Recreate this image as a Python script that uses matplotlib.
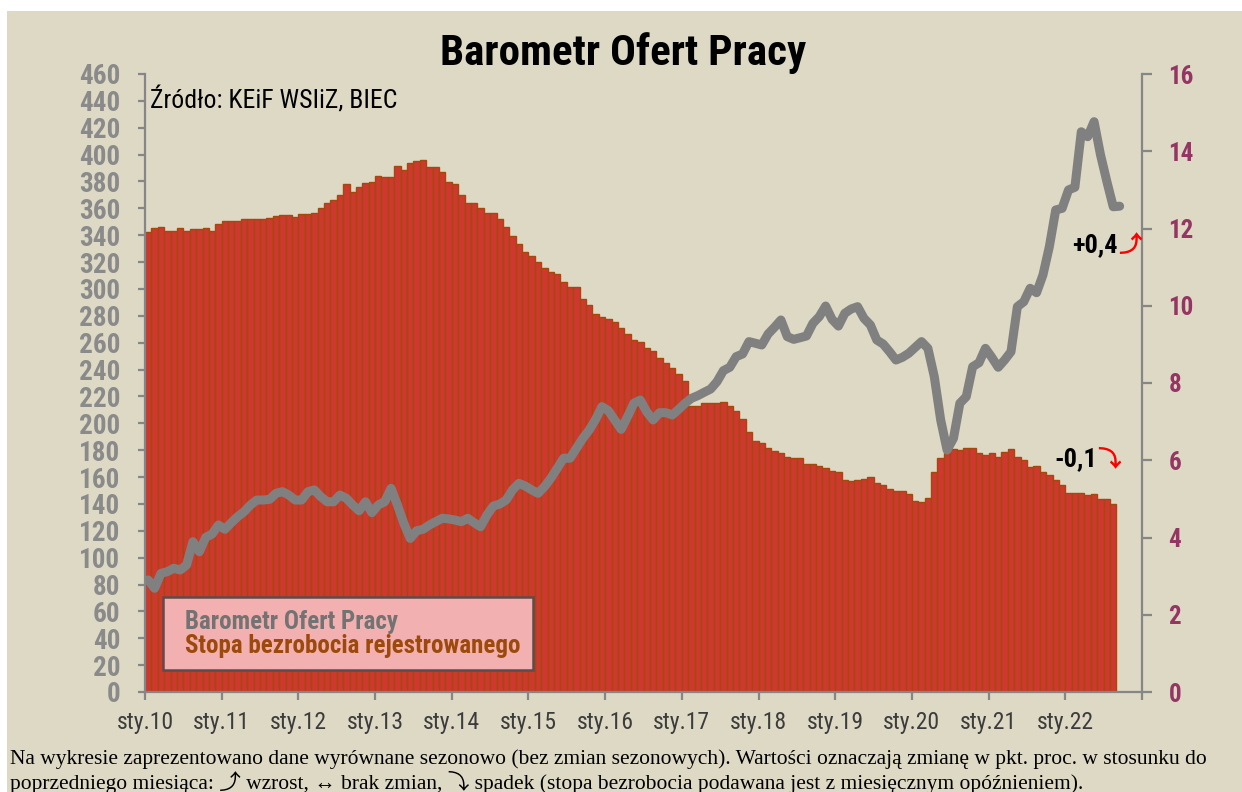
import numpy as np
import matplotlib
matplotlib.use('Agg')
import matplotlib.pyplot as plt
from matplotlib import font_manager
from matplotlib.patches import Rectangle

# condensed font for the chart texts, whichever is installed
fonts = font_manager.fontManager.ttflist
narrow, stretch, k = 'Liberation Sans', 'normal', 0.82
for f in fonts:
    if f.name in ('Liberation Sans Narrow', 'Roboto Condensed', 'Open Sans Condensed',
                  'DejaVu Sans Condensed', 'Noto Sans Condensed'):
        narrow, stretch, k = f.name, 'normal', 1.0
        break
else:
    for f in fonts:
        if f.stretch in ('condensed', 'semi-condensed', 'extra-condensed'):
            narrow, stretch, k = f.name, f.stretch, 1.0
            break

arrow_fonts = ['DejaVu Sans', 'Noto Sans', 'Noto Sans CJK JP', 'Roboto', 'Open Sans',
               'Lato', 'Inter', 'Liberation Sans']

# stopa bezrobocia rejestrowanego (%), sty.10 - sie.22
unemployment = [
    11.92, 12.02, 12.05, 11.94, 11.94, 12.01, 11.94, 11.98, 11.98, 12.01, 11.94, 12.12,
    12.20, 12.20, 12.20, 12.24, 12.25, 12.25, 12.25, 12.28, 12.32, 12.34, 12.34, 12.31,
    12.38, 12.38, 12.41, 12.54, 12.65, 12.75, 12.88, 13.14, 12.95, 13.08, 13.17, 13.21,
    13.36, 13.33, 13.33, 13.62, 13.51, 13.70, 13.75, 13.77, 13.58, 13.60, 13.47, 13.21,
    13.14, 12.87, 12.65, 12.67, 12.54, 12.39, 12.39, 12.25, 12.05, 11.81, 11.60, 11.38,
    11.29, 11.14, 10.99, 10.88, 10.81, 10.62, 10.49, 10.49, 10.17, 10.02, 9.79, 9.70,
    9.66, 9.59, 9.43, 9.27, 9.11, 9.07, 8.90, 8.84, 8.64, 8.53, 8.38, 8.23,
    8.05, 7.40, 7.40, 7.47, 7.47, 7.47, 7.50, 7.40, 7.28, 7.06, 6.74, 6.50,
    6.44, 6.31, 6.25, 6.18, 6.09, 6.07, 6.07, 5.90, 5.90, 5.86, 5.81, 5.73,
    5.70, 5.49, 5.46, 5.49, 5.52, 5.57, 5.40, 5.36, 5.25, 5.21, 5.21, 5.13,
    4.95, 4.93, 5.01, 5.70, 6.05, 6.18, 6.28, 6.27, 6.31, 6.33, 6.20, 6.14,
    6.18, 6.08, 6.22, 6.28, 6.09, 6.01, 5.82, 5.86, 5.70, 5.63, 5.49, 5.36,
    5.16, 5.16, 5.16, 5.10, 5.13, 4.99, 4.99, 4.87,
]

# Barometr Ofert Pracy, sty.10 - wrz.22
barometer = [
    83.4, 77.2, 88.3, 89.6, 92.1, 90.8, 94.5, 111.9, 104.4, 115.1, 117.6, 124.3,
    121.1, 126.0, 130.5, 134.2, 139.2, 142.9, 142.9, 143.4, 147.9, 149.1, 146.6, 142.9,
    142.9, 149.1, 150.4, 145.4, 141.6, 141.6, 146.6, 144.2, 139.2, 134.9, 141.6, 133.5,
    139.2, 141.6, 151.6, 139.2, 125.5, 114.3, 120.0, 121.1, 124.3, 126.8, 129.3, 128.8,
    128.0, 126.8, 129.3, 126.0, 123.0, 131.7, 138.4, 139.9, 142.9, 150.4, 155.3, 153.3,
    150.4, 147.9, 152.8, 159.1, 166.5, 174.0, 174.0, 181.4, 188.8, 195.0, 202.9, 212.4,
    209.4, 202.5, 195.5, 204.9, 215.0, 217.3, 208.6, 202.5, 207.9, 207.9, 206.2, 210.4,
    214.9, 218.6, 220.6, 223.1, 225.5, 231.0, 239.2, 241.7, 249.6, 251.6, 260.8, 259.6,
    258.3, 266.5, 271.5, 276.9, 264.5, 262.5, 263.7, 265.0, 274.4, 279.4, 287.3, 277.4,
    272.4, 281.9, 285.1, 286.8, 278.1, 273.2, 262.0, 259.0, 253.3, 247.1, 249.1, 252.1,
    256.5, 260.8, 255.8, 234.7, 202.5, 180.1, 188.8, 214.9, 219.8, 242.1, 245.1, 255.8,
    249.1, 241.7, 247.1, 253.3, 286.8, 290.5, 300.5, 297.2, 310.4, 331.4, 358.8, 360.0,
    373.7, 375.7, 417.0, 413.3, 424.5, 400.0, 380.0, 361.2, 361.6,
]

year_labels = ['sty.10', 'sty.11', 'sty.12', 'sty.13', 'sty.14', 'sty.15', 'sty.16',
               'sty.17', 'sty.18', 'sty.19', 'sty.20', 'sty.21', 'sty.22']

bg = '#DDD9C4'
axis_gray = '#868686'

fig = plt.figure(figsize=(12.42, 7.92), dpi=100, facecolor='white')
fig.patches.append(Rectangle((7 / 1242, 0), 1, 781 / 792, transform=fig.transFigure,
                             facecolor=bg, edgecolor='none', zorder=-10))

ax = fig.add_axes([145 / 1242, 100 / 792, 997 / 1242, 618 / 792])
ax.set_facecolor('none')
ax2 = ax.twinx()

# bars - unemployment, right axis
xb = np.arange(len(unemployment)) + 0.5
ax.bar(xb, unemployment, width=1.0, color='#CF382E', edgecolor='#A5480C', linewidth=1.0,
       label='Stopa bezrobocia rejestrowanego')
ax.set_ylim(0, 16)
ax.set_xlim(0, 156)
ax.yaxis.tick_right()
ax.set_yticks(range(0, 17, 2))
ax.set_xticks(range(0, 157, 12))
ax.set_xticklabels(year_labels + [''])

# line - barometer, left axis
xl = np.arange(len(barometer)) + 0.5
ln, = ax2.plot(xl, barometer, color='#808080', lw=6.5, solid_capstyle='round',
               solid_joinstyle='round', label='Barometr Ofert Pracy')
ax2.set_ylim(0, 460)
ax2.yaxis.tick_left()
ax2.set_yticks(range(0, 461, 20))

for s in ['top', 'left']:
    ax.spines[s].set_visible(False)
for s in ['top', 'right', 'bottom']:
    ax2.spines[s].set_visible(False)
for sp in [ax.spines['right'], ax.spines['bottom'], ax2.spines['left']]:
    sp.set_color(axis_gray)
    sp.set_linewidth(1.6)

ax.tick_params(axis='y', colors=axis_gray, length=7, width=1.6, pad=12,
               labelcolor='#953563', labelsize=18 * k)
ax.tick_params(axis='x', colors=axis_gray, length=6, width=1.6, pad=8,
               labelcolor='#3C3C3C', labelsize=17 * k)
ax2.tick_params(axis='y', colors=axis_gray, length=5, width=1.6, pad=13,
                labelcolor='#8A8A8A', labelsize=19.5 * k)
for lab in ax.get_xticklabels():
    lab.set_fontfamily(narrow)
    lab.set_fontstretch(stretch)
for lab in ax.get_yticklabels() + ax2.get_yticklabels():
    lab.set_fontfamily(narrow)
    lab.set_fontstretch(stretch)
    lab.set_fontweight('bold')

# title and source
fig.text(623 / 1242, 1 - 65 / 792, 'Barometr Ofert Pracy', ha='center', va='baseline',
         fontsize=31 * k, fontweight='bold', family=narrow, fontstretch=stretch, color='black')
fig.text(150 / 1242, 1 - 108 / 792, 'Źródło: KEiF WSIiZ, BIEC', ha='left', va='baseline',
         fontsize=18.5 * k, family=narrow, fontstretch=stretch, color='black')

# latest changes
fig.text(1118 / 1242, 1 - 252 / 792, '+0,4', ha='right', va='baseline', fontsize=19 * k,
         fontweight='bold', family=narrow, fontstretch=stretch, color='black')
fig.text(1118 / 1242, 1 - 252 / 792, '⤴', ha='left', va='baseline', fontsize=17,
         fontweight='bold', family=arrow_fonts, color='red')
fig.text(1097 / 1242, 1 - 466 / 792, '-0,1', ha='right', va='baseline', fontsize=19 * k,
         fontweight='bold', family=narrow, fontstretch=stretch, color='black')
fig.text(1097 / 1242, 1 - 466 / 792, '⤵', ha='left', va='baseline', fontsize=17,
         fontweight='bold', family=arrow_fonts, color='red')

# legend
leg = ax2.legend([ln, ax.containers[0]], ['Barometr Ofert Pracy', 'Stopa bezrobocia rejestrowanego'],
                 loc='lower left', bbox_to_anchor=(0.018, 0.035), borderaxespad=0,
                 handlelength=0, handletextpad=0.4, labelspacing=0.0, borderpad=0.5,
                 fancybox=False, labelcolor=['#737373', '#9C4A0C'],
                 prop={'family': narrow, 'stretch': stretch, 'weight': 'bold', 'size': 18 * k})
for h in leg.legend_handles:
    h.set_visible(False)
frame = leg.get_frame()
frame.set_facecolor('#F2B0B0')
frame.set_edgecolor('#5C4C4C')
frame.set_linewidth(1.8)
frame.set_alpha(1)

# footnote (va='baseline' puts the last line on y)
fig.text(10 / 1242, 1 - 789 / 792,
         'Na wykresie zaprezentowano dane wyrównane sezonowo (bez zmian sezonowych). '
         'Wartości oznaczają zmianę w pkt. proc. w stosunku do\n'
         'poprzedniego miesiąca: ⤴ wzrost, ↔ brak zmian, ⤵ spadek '
         '(stopa bezrobocia podawana jest z miesięcznym opóźnieniem).',
         ha='left', va='baseline', fontsize=15.5, linespacing=1.1,
         family=['Liberation Serif'] + arrow_fonts, color='black')

fig.savefig('out.png', dpi=100, facecolor='white')
